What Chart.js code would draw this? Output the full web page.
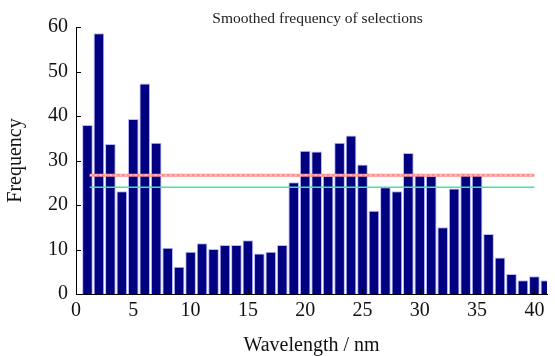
<!DOCTYPE html>
<html>
<head>
<meta charset="utf-8">
<script src="https://cdn.jsdelivr.net/npm/chart.js@4.4.1/dist/chart.umd.min.js"></script>
<style>
  html, body { margin: 0; padding: 0; background: #fff; }
  #wrap { width: 555px; height: 356px; }
</style>
</head>
<body>
<div id="wrap"><canvas id="chart" width="555" height="356"></canvas></div>
<script>
// --- data ---
const wavelengths = [1, 2, 3, 4, 5, 6, 7, 8, 9, 10, 11, 12, 13, 14, 15, 16, 17, 18, 19, 20,
                     21, 22, 23, 24, 25, 26, 27, 28, 29, 30, 31, 32, 33, 34, 35, 36, 37, 38, 39, 40, 41];
const frequency = [38.0, 58.6, 33.7, 23.1, 39.3, 47.3, 34.0, 10.4, 6.1, 9.5, 11.4, 10.1, 11.0, 11.0, 12.1, 9.1, 9.5, 11.0, 25.1, 32.2,
                   32.0, 26.6, 34.0, 35.6, 29.1, 18.7, 24.0, 23.1, 31.7, 26.9, 26.6, 15.0, 23.7, 27.1, 26.8, 13.5, 8.2, 4.5, 3.1, 4.0, 3.1];
const lineRange = [1.2, 40];
const redLevel = 26.7;
const greenLevel = 24.0;
const xTicks = [0, 5, 10, 15, 20, 25, 30, 35, 40];
const yTicks = [0, 10, 20, 30, 40, 50, 60];

const serif = "'Liberation Serif', 'Times New Roman', serif";

const bars = wavelengths.map((w, i) => ({ x: w, y: frequency[i] }));
const levelLine = v => lineRange.map(x => ({ x: x, y: v }));

// title + inward tick marks, drawn on top
const extras = {
    id: 'extras',
    afterDraw(chart) {
        const { ctx, chartArea: a, scales: { x, y } } = chart;
        ctx.save();
        ctx.strokeStyle = '#000';
        ctx.lineWidth = 1;
        ctx.beginPath();
        yTicks.forEach(v => { const py = Math.round(y.getPixelForValue(v)) + 0.5; ctx.moveTo(a.left, py); ctx.lineTo(a.left + 5, py); });
        xTicks.forEach(v => { const px = Math.round(x.getPixelForValue(v)) + 0.5; ctx.moveTo(px, a.bottom); ctx.lineTo(px, a.bottom - 5); });
        ctx.stroke();
        ctx.fillStyle = '#222';
        ctx.font = "15.5px " + serif;
        ctx.textAlign = 'center';
        ctx.textBaseline = 'middle';
        ctx.fillText('Smoothed frequency of selections', (a.left + a.right) / 2 + 6, 19);
        ctx.restore();
    }
};

new Chart(document.getElementById('chart'), {
    data: {
        datasets: [
            { type: 'line', data: levelLine(redLevel), borderColor: '#ff8f8f', borderWidth: 3, pointRadius: 0, order: 0 },
            { type: 'line', data: levelLine(redLevel), borderColor: 'rgba(255,240,240,0.95)', borderWidth: 1, borderDash: [2, 3], pointRadius: 0, order: -1 },
            { type: 'line', data: levelLine(greenLevel), borderColor: '#3ee89c', borderWidth: 1.5, pointRadius: 0, order: 0 },
            { type: 'bar', data: bars, backgroundColor: '#000080', borderColor: 'rgba(160,160,255,0.75)', borderWidth: 1,
              barPercentage: 1, categoryPercentage: 0.93, order: 1 }
        ]
    },
    options: {
        responsive: false,
        animation: false,
        devicePixelRatio: 1,
        layout: { padding: { left: 0, right: 8, top: 27, bottom: 0 } },
        plugins: { legend: { display: false }, tooltip: { enabled: false }, title: { display: false } },
        scales: {
            x: {
                type: 'linear', min: 0, max: 41.1, offset: false,
                afterFit: s => { s.height = 62; },
                afterBuildTicks: s => { s.ticks = xTicks.map(v => ({ value: v })); },
                grid: { display: false, drawTicks: false, offset: false },
                border: { display: true, color: '#000', width: 1 },
                ticks: { color: '#111', padding: 5, font: { family: serif, size: 20 }, maxRotation: 0, autoSkip: false },
                title: { display: true, text: 'Wavelength / nm', color: '#111', font: { family: serif, size: 20 }, padding: { top: 0, bottom: -1.5 } }
            },
            y: {
                min: 0, max: 60,
                afterFit: s => { s.width = 76; },
                afterBuildTicks: s => { s.ticks = yTicks.map(v => ({ value: v })); },
                grid: { display: false, drawTicks: false },
                border: { display: true, color: '#000', width: 1 },
                ticks: { color: '#111', padding: 8, font: { family: serif, size: 20 } },
                title: { display: true, text: 'Frequency', color: '#111', font: { family: serif, size: 20 }, padding: { top: 4, bottom: 0 } }
            }
        }
    },
    plugins: [extras]
});
</script>
</body>
</html>
